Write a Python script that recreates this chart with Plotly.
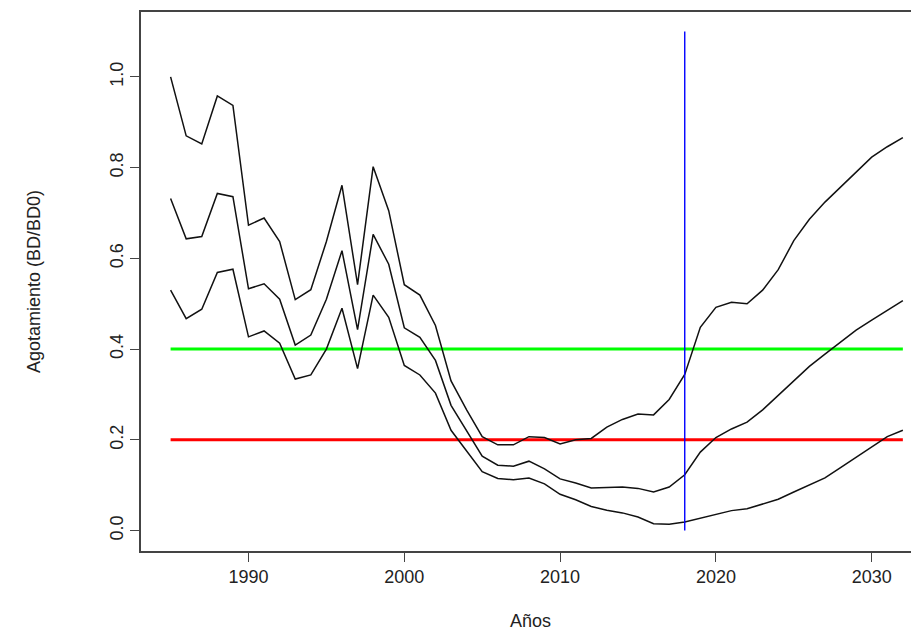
import plotly.graph_objs as go

years = list(range(1985, 2033))

# upper, middle, lower depletion curves (BD/BD0)
upper = [1.0, 0.87, 0.852, 0.958, 0.937, 0.673, 0.689, 0.637, 0.509, 0.531,
         0.637, 0.761, 0.542, 0.802, 0.705, 0.542, 0.519, 0.452, 0.33, 0.266,
         0.207, 0.189, 0.189, 0.207, 0.205, 0.191, 0.2, 0.203, 0.228, 0.245,
         0.257, 0.255, 0.289, 0.344, 0.448, 0.492, 0.503, 0.5, 0.53, 0.575,
         0.639, 0.686, 0.724, 0.757, 0.792, 0.823, 0.846, 0.866]
middle = [0.732, 0.643, 0.648, 0.743, 0.736, 0.533, 0.544, 0.51, 0.409, 0.431,
          0.51, 0.617, 0.443, 0.653, 0.587, 0.447, 0.426, 0.375, 0.276, 0.22,
          0.164, 0.144, 0.142, 0.153, 0.136, 0.114, 0.105, 0.094, 0.095, 0.096,
          0.093, 0.085, 0.096, 0.123, 0.173, 0.205, 0.224, 0.239, 0.266, 0.298,
          0.332, 0.362, 0.389, 0.416, 0.442, 0.464, 0.486, 0.507]
lower = [0.53, 0.467, 0.488, 0.569, 0.576, 0.427, 0.44, 0.413, 0.334, 0.343,
         0.4, 0.49, 0.357, 0.519, 0.47, 0.364, 0.343, 0.303, 0.221, 0.175,
         0.13, 0.115, 0.112, 0.116, 0.103, 0.08, 0.068, 0.053, 0.045, 0.039,
         0.03, 0.015, 0.014, 0.019, 0.027, 0.036, 0.044, 0.048, 0.059, 0.069,
         0.085, 0.1, 0.116, 0.139, 0.162, 0.185, 0.207, 0.221]

target_ref = 0.4
limit_ref = 0.2
current_year = 2018

fig = go.Figure()

# reference levels
fig.add_trace(go.Scatter(x=[years[0], years[-1]], y=[target_ref, target_ref], mode='lines',
                         line=dict(color='#00ff00', width=3)))
fig.add_trace(go.Scatter(x=[years[0], years[-1]], y=[limit_ref, limit_ref], mode='lines',
                         line=dict(color='#ff0000', width=3)))

for s in (upper, middle, lower):
    fig.add_trace(go.Scatter(x=years, y=s, mode='lines', line=dict(color='#111', width=1.5)))

fig.add_trace(go.Scatter(x=[current_year, current_year], y=[0, 1.1], mode='lines',
                         line=dict(color='#0000ff', width=1.4)))

axis_style = dict(showgrid=False, zeroline=False, showline=True, linecolor='#444', linewidth=1.5,
                  mirror=True, ticks='outside', ticklen=9, tickcolor='#444',
                  tickfont=dict(family='Liberation Sans', size=18, color='#222'))
fig.update_xaxes(range=[1983.1, 2033.1], tickvals=[1990, 2000, 2010, 2020, 2030],
                 title=dict(text='Años', font=dict(family='Liberation Sans', size=18, color='#222'),
                            standoff=28),
                 **axis_style)
fig.update_yaxes(range=[-0.045, 1.143], tickvals=[0, 0.2, 0.4, 0.6, 0.8, 1.0],
                 ticktext=['0.0', '0.2', '0.4', '0.6', '0.8', '1.0'], tickangle=-90,
                 title=dict(text='Agotamiento (BD/BD0)', font=dict(family='Liberation Sans', size=18, color='#222'),
                            standoff=62),
                 **axis_style)
fig.update_layout(width=919, height=641, showlegend=False, plot_bgcolor='white', paper_bgcolor='white',
                  margin=dict(l=133, r=7, t=2, b=98))

fig.write_html("out.html")
